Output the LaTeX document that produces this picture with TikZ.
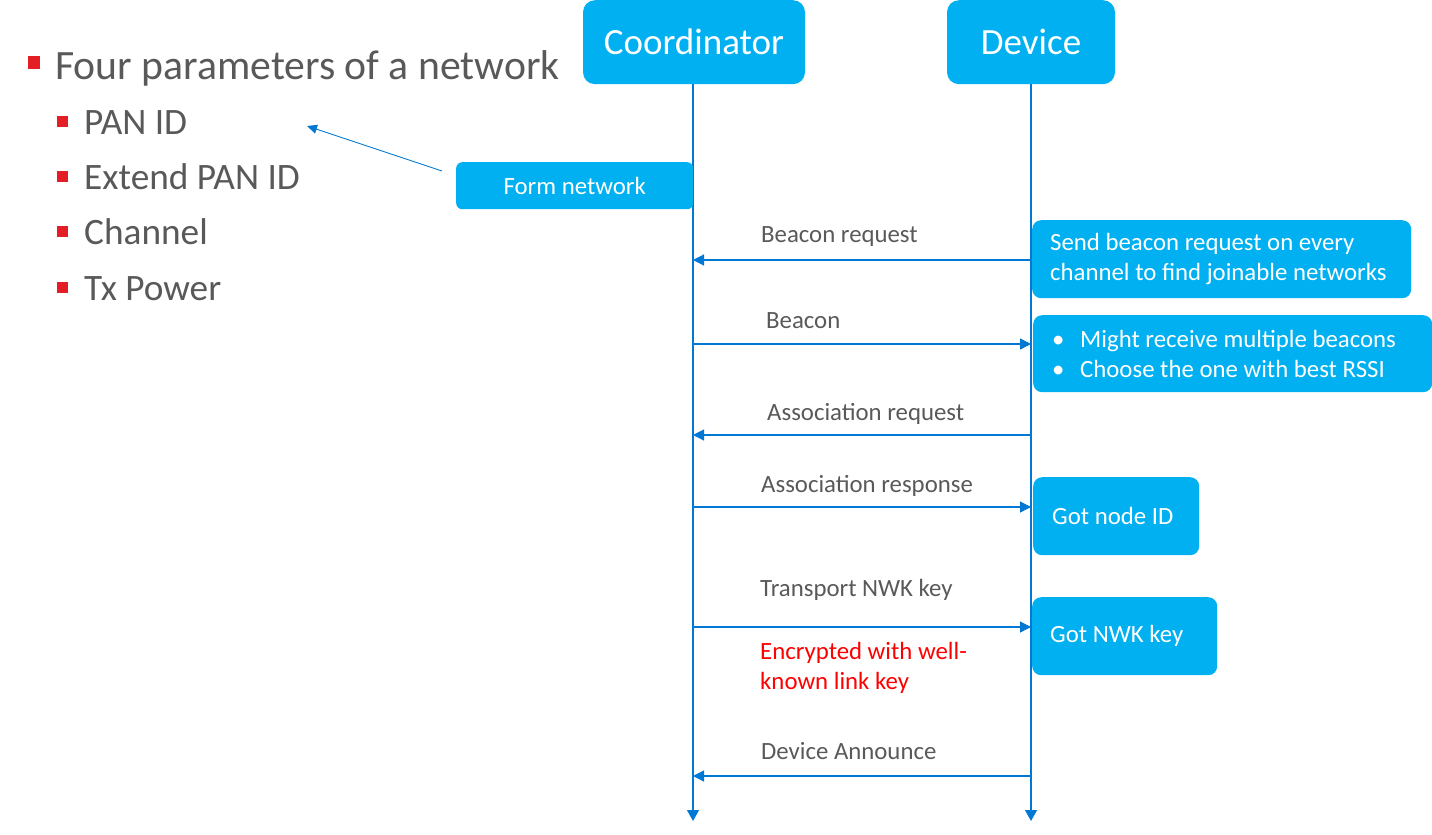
\documentclass[tikz,border=0pt]{standalone}
\usepackage{fontspec}
\setmainfont{Carlito}
\usetikzlibrary{arrows.meta}

\definecolor{boxblue}{RGB}{0,176,240}
\definecolor{lineblue}{RGB}{0,120,212}
\definecolor{textgray}{RGB}{89,89,89}
\definecolor{bulletred}{RGB}{227,30,36}
\definecolor{warnred}{RGB}{255,0,0}

\begin{document}
\begin{tikzpicture}[x=1pt, y=-1pt,
    actor/.style={fill=boxblue, rounded corners=12pt, text=white, font=\fontsize{37pt}{44pt}\selectfont, minimum height=84pt, inner sep=0pt, anchor=north},
    note/.style={fill=boxblue, rounded corners=9pt, text=white, font=\fontsize{24.8pt}{30pt}\selectfont, align=flush left, inner ysep=0pt, anchor=north west},
    msglabel/.style={text=textgray, font=\fontsize{24.8pt}{30pt}\selectfont, inner sep=0pt, anchor=base west},
    item/.style={text=textgray, font=\fontsize{37.3pt}{44pt}\selectfont, inner sep=0pt, anchor=base west},
    msg/.style={draw=lineblue, line width=1.2pt, -{Triangle[length=11pt,width=11pt]}},
    lifeline/.style={draw=lineblue, line width=1.2pt, -{Triangle[length=11pt,width=12pt]}}]
            \useasboundingbox (0,0) rectangle (1432,835);

            % parameter list
            \fill[bulletred] (28,56) rectangle (40,69);
            \node[item, font=\fontsize{41.7pt}{48pt}\selectfont] (params) at (55,79) {Four parameters of a network};
            \foreach \y/\n/\t in {134/panid/PAN ID, 189/extpanid/Extend PAN ID, 244/channel/Channel, 300/txpower/Tx Power} {
                \fill[bulletred] (57,\y-18) rectangle (68,\y-7);
                \node[item] (\n) at (84,\y) {\t};
            }

            % lifelines
            \node[actor, minimum width=222pt] (coord) at (694,0) {Coordinator};
            \node[actor, minimum width=168pt] (dev) at (1031,0) {Device};
            \coordinate (coord-end) at (693,821);
            \coordinate (dev-end) at (1031,821);
            \draw[lifeline] (coord.south -| coord-end) -- (coord-end);
            \draw[lifeline] (dev.south) -- (dev-end);

            \node[note, rounded corners=6pt, minimum width=237pt, minimum height=47pt, inner xsep=0pt, align=center] (form) at (456,162) {Form network};
            \coordinate (form-tail) at (442,171);
            \coordinate (panid-tip) at (307,126);
            \draw[draw=lineblue, line width=0.9pt, -{Triangle[length=10pt,width=9pt]}] (form-tail) -- (panid-tip);

            % message points on both lifelines
            \foreach \n/\y in {breq/260, bcn/344, areq/435, aresp/507, tkey/627, ann/776} {
                \coordinate (c-\n) at (693,\y);
                \coordinate (d-\n) at (1031,\y);
            }

            \draw[msg] (d-breq) -- (c-breq);
            \node[msglabel] (breq) at (761,242) {Beacon request};
            \draw[msg] (c-bcn) -- (d-bcn);
            \node[msglabel] (bcn) at (766,328) {Beacon};
            \draw[msg] (d-areq) -- (c-areq);
            \node[msglabel] (areq) at (767,420) {Association request};
            \draw[msg] (c-aresp) -- (d-aresp);
            \node[msglabel] (aresp) at (761,492) {Association response};
            \draw[msg] (c-tkey) -- (d-tkey);
            \node[msglabel] (tkey) at (760,596) {Transport NWK key};
            \node[msglabel, text=warnred, align=left, anchor=north west] (enc) at (760,642) {Encrypted with well-\\known link key};
            \draw[msg] (d-ann) -- (c-ann);
            \node[msglabel] (ann) at (761,759) {Device Announce};

            % device side notes
            \node[note, minimum height=78pt, inner xsep=18pt, text width=343pt] (scan) at (1032,220) {Send beacon request on every\\channel to find joinable networks};
            \node[note, minimum height=77pt, inner xsep=0pt, text width=399pt] (choose) at (1033,315)
                {\hspace*{19pt}\makebox[28pt][l]{\textbullet}Might receive multiple beacons\\\hspace*{19pt}\makebox[28pt][l]{\textbullet}Choose the one with best RSSI};
            \node[note, minimum height=78pt, inner xsep=19pt, text width=128pt] (nodeid) at (1033,477) {Got node ID};
            \node[note, minimum height=78pt, inner xsep=18pt, text width=149pt] (nwkkey) at (1032,597) {Got NWK key};
        \end{tikzpicture}
\end{document}
